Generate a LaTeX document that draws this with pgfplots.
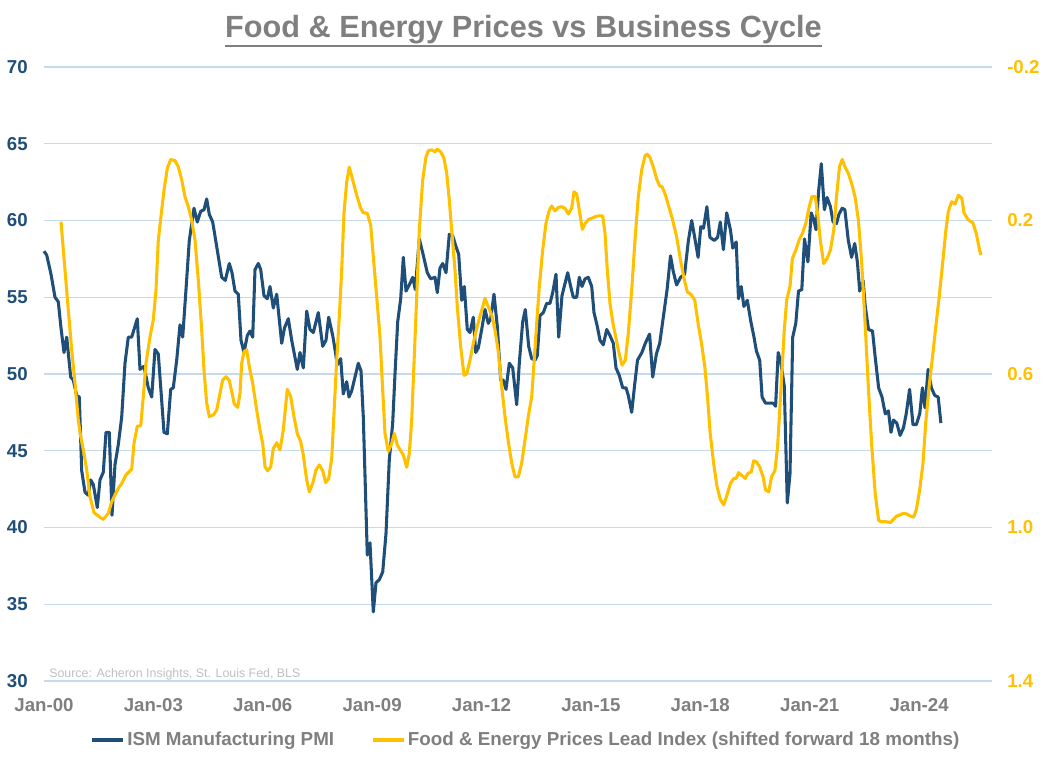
\documentclass[border=0pt]{standalone}
\usepackage{fontspec}
\setmainfont{Liberation Sans}
\usepackage{pgfplots}
\usepackage{pgfplotstable}
\pgfplotsset{compat=1.18}
\definecolor{pmiblue}{HTML}{1F4E79}
\definecolor{gold}{HTML}{FFC000}
\definecolor{txtgray}{HTML}{7F7F7F}
\definecolor{gridblue}{RGB}{198,218,238}
\definecolor{srcgray}{HTML}{BFBFBF}

% px = horizontal pixel position in the reference (Jan-00 at 44, 36.46 px per year)
\pgfplotstableread{
px v
44 58.0
46.7 57.75
51 56.5
55 55.0
58.3 54.7
61 53.0
64 51.4
66.7 52.4
70.7 49.8
73.3 49.6
76.7 48.6
79.3 48.5
81.7 43.7
85 42.3
88.3 42.1
90.7 43.1
93.3 42.8
97.3 41.3
100 43.1
103.3 43.6
106 46.2
109.3 46.2
112 40.8
115 44.1
118.3 45.4
121.7 47.2
125 50.7
128.3 52.4
131.7 52.4
137.3 53.6
140 50.3
144 50.5
148.3 49.1
151.7 48.5
155 51.6
158.3 51.3
164 46.2
167.3 46.1
170.7 49.0
173.3 49.1
176.7 50.9
180 53.2
182.7 52.4
186 55.5
189.3 58.7
194 60.8
197.3 59.9
200.7 60.6
204 60.7
206.7 61.4
209.3 60.4
212.7 59.9
216.7 58.3
221.7 56.3
225.3 56.1
229.3 57.2
232 56.6
235 55.4
238.3 55.2
241 52.2
244 51.4
247.3 52.5
250 52.8
252.7 52.4
255 56.8
258.3 57.2
260.7 56.8
264 55.1
267.3 54.9
270 55.7
273.3 54.3
276.7 55.2
281.7 52.0
284.5 53.0
288.3 53.6
291.7 52.2
297.3 50.3
300 51.4
303.3 50.4
306.7 54.1
310 52.9
313.3 52.7
318.3 54.0
322.7 51.8
326 52.2
328.7 53.7
332.7 52.5
335 51.6
337.3 50.6
340.7 51.0
343.3 48.7
346.7 49.5
349 48.5
351.7 48.9
358.3 50.7
361 50.2
363.3 47.2
367.3 38.2
370 39.0
373.3 34.5
376 36.4
379.3 36.6
382.7 37.1
386 39.6
389.3 44.4
392.7 46.8
395 50.0
397.7 53.4
400.7 54.9
403.3 57.6
406 55.4
410 55.9
412.7 56.3
415.3 55.5
419.3 58.8
422.7 57.9
427.3 56.6
430.7 56.2
435 56.3
437.3 55.3
440 56.9
442.7 57.2
446 56.6
449.3 59.1
452.7 59.0
456 58.3
458.7 57.8
461.7 54.8
464.3 55.7
467.3 52.9
470 52.7
473.3 53.7
475.7 51.4
478.3 51.7
481.7 52.9
485 54.2
488.3 53.3
490.7 53.6
494 55.2
497.3 53.1
500.7 49.6
503.3 49.6
506 49.0
509.3 50.7
512.7 50.4
516.7 48.0
519.3 50.7
522.7 53.4
525.3 54.2
528.7 51.8
531.7 51.0
535 50.9
537.3 51.2
540 53.8
543.3 54.0
546.7 54.6
550 54.6
552.7 55.3
556 56.5
558.7 52.4
562 55.1
565 55.9
567.7 56.6
570.7 55.7
573.3 55.0
576.7 55.0
579.3 56.3
582 55.7
585 56.2
588.3 56.3
591.7 55.7
594 54.0
597.3 53.1
600 52.2
603.3 51.9
606.7 52.9
610 52.5
613.3 52.0
616 50.4
619.3 49.9
622.7 49.1
626 49.1
628.3 48.6
631.7 47.5
634.5 49.2
637.5 50.9
641.9 51.4
645.3 52.0
649.6 52.6
652.7 49.8
656.4 51.3
659.7 52.0
663.1 53.6
667.1 55.5
670.5 57.7
673.2 56.7
676.6 55.8
680.6 56.3
684.6 56.5
688.4 58.7
691.7 60.0
694.7 58.9
698.1 57.6
700.8 59.6
703.5 59.5
706.9 60.9
709.9 58.9
714.3 58.7
717.6 58.9
720.3 59.9
723.4 58.1
726.7 60.5
730.4 59.4
732.8 58.2
736.2 58.6
738.5 54.9
741.2 55.7
743.9 54.4
747.3 54.8
750.6 53.5
754 52.4
756.4 51.5
759.7 50.9
762.1 48.5
765.5 48.1
769.8 48.1
773.2 48.1
775.6 47.9
778.2 51.4
781 50.7
784.3 49.2
787.3 41.6
790 43.5
792.7 52.4
795.8 53.3
798.5 55.4
801.8 55.5
804.5 58.8
807.9 57.3
811.2 60.5
813.6 60.1
816 59.4
818.6 61.9
821.3 63.7
824.4 60.7
827.1 61.5
830.4 60.9
833.1 59.9
836.5 59.8
838.9 60.4
842.2 60.8
844.9 60.7
848.3 58.7
851.6 57.6
854.7 58.5
857.4 57.3
859.7 55.4
863.1 56.1
865.1 54.5
868.5 52.9
872.5 52.8
875.2 51.1
878.6 49.1
882 48.5
885.3 47.4
888.4 47.6
891 46.2
893.4 47.0
896.8 46.8
900.1 46.0
903.5 46.5
906.2 47.4
909.6 49.0
913 46.7
916.3 46.7
919.7 47.4
922.4 49.1
925 47.8
928.1 50.3
931.4 49.1
934.8 48.6
938.2 48.5
940.9 46.8
}\pmidata

\pgfplotstableread{
px r
61 0.203
65 0.329
68.3 0.433
71.7 0.537
75 0.624
78.3 0.720
80.7 0.763
84 0.807
86.7 0.850
90 0.920
94 0.961
98.3 0.970
103.3 0.979
108.3 0.963
111.7 0.933
115 0.915
118.3 0.898
121.7 0.885
126 0.863
131.7 0.848
134 0.781
137.3 0.736
140.7 0.735
143.3 0.659
146 0.572
150 0.503
153.3 0.459
156 0.381
158.3 0.251
161.7 0.173
164 0.121
167.3 0.064
170.7 0.041
175 0.044
178.3 0.060
181.7 0.094
185 0.138
188.3 0.164
191.7 0.199
195 0.251
198.3 0.355
201.7 0.485
204 0.590
206.7 0.676
209.3 0.711
213.3 0.707
216.7 0.694
220 0.650
222.7 0.616
226 0.607
229.3 0.617
231.7 0.646
234.3 0.678
237.7 0.687
240 0.650
241.7 0.572
244 0.542
246.7 0.537
249.3 0.581
252.7 0.624
256.7 0.694
260 0.746
262.7 0.781
265 0.842
267.7 0.852
270.7 0.842
273.3 0.794
276.7 0.779
280 0.798
283.3 0.746
287.3 0.640
290.7 0.659
294 0.711
297.3 0.756
300.7 0.776
303.3 0.811
306.7 0.876
309.3 0.907
312.7 0.885
316 0.850
319.3 0.837
322.7 0.852
325.7 0.883
328.7 0.872
331.7 0.820
334 0.702
336.7 0.564
339.3 0.451
341.7 0.329
344 0.180
346.7 0.100
349.3 0.061
352.7 0.094
356.7 0.134
360.7 0.168
363.3 0.180
367.3 0.181
370.7 0.212
373.3 0.294
376.7 0.399
380 0.503
382.7 0.642
385 0.755
388.3 0.802
391.7 0.781
394.3 0.755
397.3 0.785
400.7 0.800
403.3 0.811
406.7 0.843
409.3 0.807
411.7 0.720
414 0.572
416.7 0.399
419.3 0.225
422.7 0.094
426 0.034
428.3 0.018
431.7 0.016
435 0.021
437.3 0.014
440.7 0.021
444 0.038
446.7 0.077
449.3 0.147
451.7 0.225
455 0.329
457.3 0.425
460.7 0.529
464 0.603
466.7 0.600
470 0.564
473.3 0.520
476.7 0.481
480 0.449
482.7 0.425
485 0.403
488.3 0.425
491.7 0.446
495 0.485
498.3 0.542
501.7 0.633
505 0.711
508.3 0.776
511.7 0.832
515 0.868
518.3 0.868
521.7 0.832
525 0.772
528.3 0.711
531.7 0.659
534 0.572
536.7 0.468
539.3 0.372
542.7 0.277
546 0.207
549.3 0.173
551.7 0.162
555 0.175
558.3 0.166
561.7 0.164
565 0.168
568.3 0.183
571.7 0.168
574 0.125
576.7 0.131
579.3 0.173
582.3 0.223
585.3 0.207
588.7 0.197
592 0.194
595.3 0.190
598.3 0.188
602.7 0.188
605 0.233
607.3 0.329
610 0.416
612.7 0.464
616 0.507
618.7 0.542
622 0.577
625.3 0.564
628.3 0.494
631.7 0.381
635 0.251
638.3 0.138
641.7 0.068
645 0.032
647 0.027
650 0.036
653.7 0.064
657 0.094
659.7 0.110
662.1 0.112
665.5 0.134
668.8 0.164
672.2 0.194
676.6 0.242
679.9 0.294
684 0.351
687.3 0.386
690.7 0.392
694.7 0.407
698.1 0.468
701.5 0.520
704.8 0.581
707.5 0.659
710.2 0.755
713.6 0.832
717 0.893
720.3 0.927
723.7 0.941
727.1 0.915
730.4 0.885
733.8 0.872
736.2 0.872
738.5 0.857
741.2 0.863
745.3 0.872
747.9 0.859
751.3 0.855
753.7 0.826
756.4 0.829
759.7 0.842
763.1 0.868
765.5 0.902
768.8 0.907
771.5 0.868
774.9 0.852
777.6 0.789
780.9 0.642
784.3 0.485
786.7 0.407
790 0.372
792.4 0.299
795.8 0.277
799.1 0.251
802.5 0.233
805.9 0.207
808.6 0.171
811.9 0.138
815.3 0.138
818 0.190
820.3 0.251
823.7 0.312
827.1 0.299
830.4 0.277
833.8 0.225
836.5 0.138
839.5 0.060
842.2 0.041
844.9 0.060
848.3 0.077
851.6 0.103
855 0.138
858.4 0.199
861.7 0.312
865.1 0.468
868.5 0.642
871.8 0.789
875.2 0.911
878.6 0.982
882 0.985
886 0.985
890.4 0.987
893.4 0.979
896.8 0.970
900.1 0.967
903.5 0.963
906.9 0.965
910.2 0.970
913.6 0.973
916.3 0.954
919.7 0.902
923 0.832
925.7 0.728
929.1 0.633
932.5 0.555
935.8 0.477
939.2 0.399
942.6 0.312
945.9 0.225
948.3 0.177
951.6 0.151
955 0.157
958.4 0.134
961.8 0.142
964.1 0.181
968.5 0.199
972.9 0.206
976.2 0.233
979.6 0.277
981 0.290
}\fooddata

\begin{document}
\begin{tikzpicture}
\path[use as bounding box] (0pt,0pt) rectangle (787.5pt,575.25pt);

\begin{axis}[
  at={(33pt,64.5pt)}, anchor=south west,
  scale only axis, width=711pt, height=460.5pt,
  xmin=2000, xmax=2026, ymin=30, ymax=70,
  ytick={30,35,...,70},
  xtick={2000,2003,2006,2009,2012,2015,2018,2021,2024},
  xticklabels={Jan-00,Jan-03,Jan-06,Jan-09,Jan-12,Jan-15,Jan-18,Jan-21,Jan-24},
  tick pos=left,
  axis line style={draw=none},
  major tick length=0pt,
  ymajorgrids,
  grid style={gridblue, line width=0.8pt},
  /pgf/number format/assume math mode=true,
  xticklabel style={font=\fontsize{14}{16}\selectfont\bfseries, text=txtgray, inner sep=0pt, anchor=north, yshift=-12.75pt},
  yticklabel style={font=\fontsize{14}{16}\selectfont\bfseries, text=pmiblue, inner sep=0pt, anchor=east, xshift=-12pt},
  clip=false,
]
\addplot[pmiblue, line width=2.3pt, line join=round, no markers]
  table[x expr={2000+(\thisrow{px}-44)/36.4615}, y=v] {\pmidata};
\node[anchor=base west, inner sep=0pt, font=\fontsize{9.3}{11}\selectfont, text=srcgray]
  at (axis description cs:0.0053,0.0065) {Source: Acheron Insights, St. Louis Fed, BLS};
\end{axis}

\begin{axis}[
  at={(33pt,64.5pt)}, anchor=south west,
  scale only axis, width=711pt, height=460.5pt,
  xmin=2000, xmax=2026, ymin=-0.2, ymax=1.4,
  y dir=reverse,
  axis x line=none,
  axis y line*=right,
  axis line style={draw=none},
  major tick length=0pt,
  ytick={-0.2,0.2,0.6,1.0,1.4},
  yticklabel style={font=\fontsize{14}{16}\selectfont\bfseries, text=gold, inner sep=0pt, anchor=west, xshift=11.25pt,
    /pgf/number format/.cd, fixed, fixed zerofill, precision=1, assume math mode=true},
  legend style={at={(axis description cs:0.509,-0.0961)}, anchor=center, draw=none, fill=none,
    font=\fontsize{14.1}{16}\selectfont\bfseries, text=txtgray,
    /tikz/every even column/.append style={column sep=26pt}},
  legend columns=2,
  legend cell align=left,
  legend image code/.code={\draw[#1] (0pt,0pt) -- (23pt,0pt);},
  clip=false,
]
\addlegendimage{pmiblue, line width=2.3pt}
\addlegendentry{ISM Manufacturing PMI}
\addplot[gold, line width=2.3pt, line join=round, no markers]
  table[x expr={2000+(\thisrow{px}-44)/36.4615}, y=r] {\fooddata};
\addlegendentry{Food \& Energy Prices Lead Index (shifted forward 18 months)}
\end{axis}

\node[anchor=base, inner sep=0pt, font=\fontsize{23}{26}\selectfont\bfseries, text=txtgray] (title)
  at (392.6pt,546.75pt) {Food \& Energy Prices vs Business Cycle};
\draw[txtgray, line width=1.5pt] ([yshift=-6pt]title.base west) -- ([yshift=-6pt]title.base east);
\end{tikzpicture}
\end{document}
